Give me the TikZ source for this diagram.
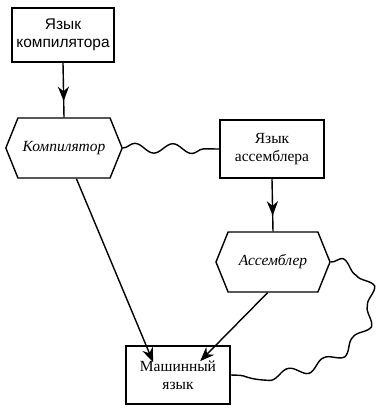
\documentclass[tikz,border=0pt]{standalone}
\usepackage{fontspec}
\setmainfont{Liberation Serif}
\setsansfont{Liberation Sans}
\usetikzlibrary{shapes.symbols,decorations.pathmorphing,decorations.markings,arrows.meta,calc}

\tikzset{
  langbox/.style={draw, line width=1.2pt, minimum width=2.6cm, minimum height=1.45cm,
    align=center, inner sep=2pt, font=\fontsize{11}{13}\selectfont},
  progbox/.style={draw, signal, signal to=west and east, signal pointer angle=136,
    minimum width=2.8cm, minimum height=1.5cm, font=\fontsize{11}{13}\selectfont\itshape},
  tip/.style={-{Stealth[length=3.6mm,width=2.8mm]}},
  midarrow/.style={postaction={decorate}, decoration={markings,
    mark=at position #1 with {\arrow{Stealth[length=3.6mm,width=2.8mm]}}}},
  wave/.style={decorate, decoration={snake, amplitude=1.2mm, segment length=9.5mm}},
}

\begin{document}
\begin{tikzpicture}[x=0.025cm, y=-0.025cm, line width=1pt]
  \useasboundingbox (0,0) rectangle (381,409);
  % languages and translators
  \node[langbox, font=\fontsize{11}{13}\selectfont\sffamily, minimum width=2.55cm, minimum height=1.35cm] (complang) at (63,35) {Язык\\компилятора};
  \node[progbox] (comp) at (64,148) {Компилятор};
  \node[langbox] (asmlang) at (272,149) {Язык\\ассемблера};
  \node[progbox, minimum width=2.85cm] (asm) at (273,262) {Ассемблер};
  \node[langbox] (mach) at (178,375) {Машинный\\язык};
  % arrow ends inside the target box
  \coordinate (m1) at ($(mach.north west)+(28,17)$);
  \coordinate (m2) at ($(mach.north west)+(75,16)$);
  \draw[midarrow=0.7] (complang.south) -- (comp.north);
  \draw[midarrow=0.7] (asmlang.south) -- (asm.north);
  \draw[tip] (comp.-68) -- (m1);
  \draw[tip] (asm.-100) -- (m2);
  % wavy links
  \draw[wave] (comp.east) -- (asmlang.west);
  \draw[wave] (asm.east) .. controls (384,268) and (384,378) .. (mach.east);
\end{tikzpicture}
\end{document}
